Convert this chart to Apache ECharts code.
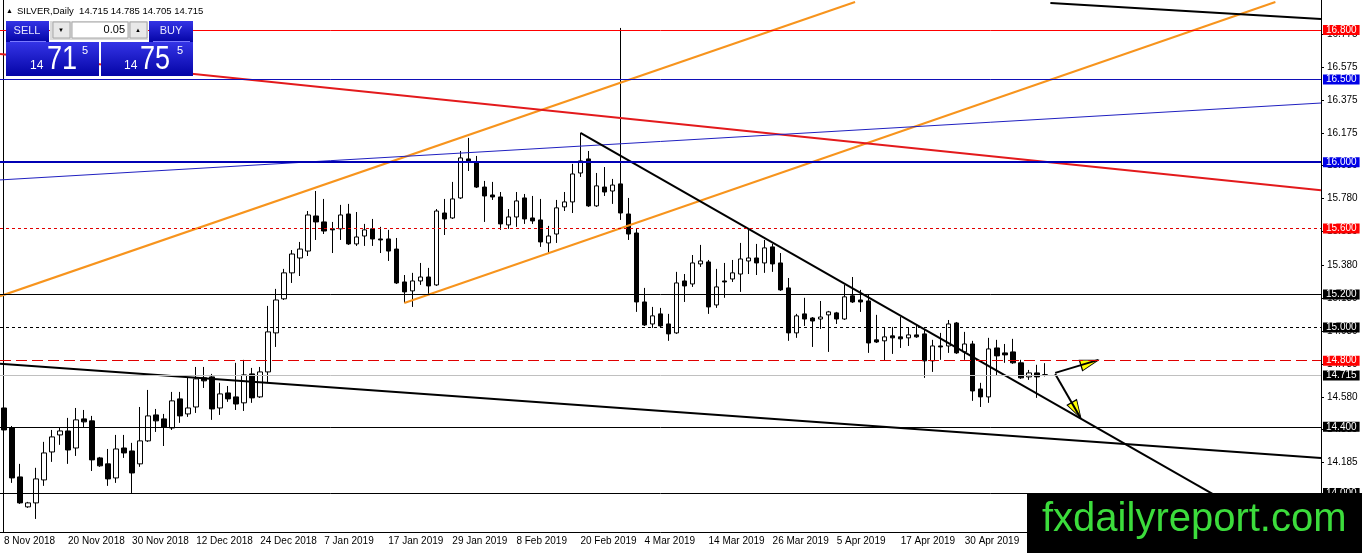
<!DOCTYPE html>
<html>
<head>
<meta charset="utf-8">
<title>SILVER, Daily</title>
<script src="https://cdn.jsdelivr.net/npm/echarts@6/dist/echarts.min.js"></script>
<style>
  html, body { margin: 0; padding: 0; background: #fff; }
  #chart { width: 1362px; height: 553px; }
</style>
</head>
<body>
<div id="chart"></div>
<script>
// daily bars, 8 Nov 2018 .. 14 May 2019
const opens = [
  14.514, 14.393, 14.097, 13.916, 13.940, 14.079, 14.248, 14.351, 14.375, 14.272,
  14.448, 14.436, 14.212, 14.176, 14.091, 14.272, 14.254, 14.176, 14.315, 14.472,
  14.448, 14.393, 14.569, 14.478, 14.520, 14.696, 14.702, 14.514, 14.605, 14.581,
  14.545, 14.720, 14.581, 14.732, 14.968, 15.174, 15.331, 15.421, 15.463, 15.675,
  15.639, 15.597, 15.597, 15.687, 15.506, 15.554, 15.597, 15.536, 15.536, 15.475,
  15.276, 15.222, 15.282, 15.306, 15.258, 15.693, 15.663, 15.784, 16.020, 16.002,
  15.850, 15.802, 15.790, 15.621, 15.669, 15.784, 15.663, 15.651, 15.512, 15.566,
  15.730, 15.760, 15.935, 16.020, 15.736, 15.850, 15.826, 15.869, 15.687, 15.572,
  15.155, 15.022, 15.083, 15.022, 14.968, 15.282, 15.264, 15.385, 15.397, 15.137,
  15.282, 15.294, 15.324, 15.403, 15.421, 15.391, 15.488, 15.391, 15.240, 14.968,
  15.083, 15.058, 15.052, 15.077, 15.089, 15.052, 15.192, 15.167, 15.161, 14.926,
  14.920, 14.950, 14.944, 14.938, 14.956, 14.962, 14.799, 14.889, 14.889, 15.028,
  14.853, 14.901, 14.629, 14.581, 14.877, 14.847, 14.853, 14.787, 14.702, 14.726,
  14.715
];
const closes = [
  14.381, 14.091, 13.940, 13.940, 14.085, 14.242, 14.339, 14.375, 14.260, 14.442,
  14.430, 14.200, 14.164, 14.085, 14.266, 14.242, 14.121, 14.315, 14.466, 14.436,
  14.399, 14.557, 14.466, 14.514, 14.690, 14.678, 14.508, 14.599, 14.569, 14.538,
  14.714, 14.575, 14.732, 14.974, 15.167, 15.331, 15.445, 15.475, 15.681, 15.639,
  15.584, 15.591, 15.681, 15.506, 15.548, 15.591, 15.536, 15.530, 15.463, 15.270,
  15.216, 15.282, 15.306, 15.252, 15.705, 15.657, 15.778, 16.026, 16.002, 15.850,
  15.796, 15.790, 15.627, 15.669, 15.766, 15.657, 15.645, 15.518, 15.554, 15.724,
  15.760, 15.929, 16.008, 15.736, 15.857, 15.820, 15.862, 15.693, 15.566, 15.155,
  15.016, 15.071, 15.010, 14.962, 15.270, 15.252, 15.391, 15.403, 15.125, 15.246,
  15.276, 15.331, 15.415, 15.421, 15.391, 15.482, 15.385, 15.228, 14.968, 15.071,
  15.052, 15.040, 15.064, 15.095, 15.052, 15.186, 15.155, 15.155, 14.907, 14.913,
  14.944, 14.938, 14.932, 14.956, 14.944, 14.799, 14.889, 14.883, 15.022, 14.847,
  14.901, 14.617, 14.581, 14.871, 14.829, 14.835, 14.787, 14.696, 14.726, 14.702,
  14.715
];
const highs = [
  14.563, 14.405, 14.176, 13.946, 14.152, 14.309, 14.381, 14.393, 14.454, 14.514,
  14.502, 14.466, 14.218, 14.266, 14.351, 14.351, 14.303, 14.520, 14.623, 14.508,
  14.478, 14.611, 14.611, 14.696, 14.762, 14.762, 14.720, 14.666, 14.647, 14.787,
  14.805, 14.756, 14.762, 15.131, 15.234, 15.355, 15.469, 15.518, 15.705, 15.826,
  15.778, 15.639, 15.742, 15.748, 15.699, 15.627, 15.657, 15.609, 15.591, 15.542,
  15.318, 15.331, 15.391, 15.361, 15.717, 15.778, 15.881, 16.068, 16.147, 16.038,
  15.887, 15.881, 15.820, 15.717, 15.820, 15.808, 15.796, 15.778, 15.615, 15.772,
  15.820, 15.990, 16.177, 16.068, 15.935, 15.971, 15.899, 16.812, 15.784, 15.597,
  15.240, 15.125, 15.119, 15.083, 15.337, 15.324, 15.439, 15.500, 15.409, 15.355,
  15.391, 15.409, 15.512, 15.591, 15.506, 15.530, 15.506, 15.451, 15.300, 15.083,
  15.180, 15.064, 15.161, 15.101, 15.095, 15.258, 15.306, 15.228, 15.198, 15.077,
  14.998, 15.004, 15.064, 14.998, 15.016, 14.986, 14.926, 14.968, 15.046, 15.034,
  14.974, 14.920, 14.666, 14.938, 14.926, 14.901, 14.932, 14.805, 14.744, 14.775,
  14.785
];
const lows = [
  14.339, 14.061, 13.934, 13.910, 13.843, 14.043, 14.188, 14.291, 14.176, 14.224,
  14.399, 14.133, 14.158, 14.043, 14.061, 14.212, 14.000, 14.158, 14.309, 14.369,
  14.284, 14.381, 14.424, 14.460, 14.484, 14.635, 14.442, 14.472, 14.551, 14.502,
  14.496, 14.545, 14.575, 14.666, 14.883, 15.167, 15.270, 15.312, 15.433, 15.530,
  15.566, 15.451, 15.530, 15.500, 15.494, 15.494, 15.494, 15.451, 15.403, 15.264,
  15.149, 15.125, 15.258, 15.198, 15.252, 15.560, 15.657, 15.778, 15.947, 15.844,
  15.639, 15.772, 15.591, 15.597, 15.609, 15.627, 15.627, 15.488, 15.451, 15.512,
  15.705, 15.693, 15.911, 15.730, 15.730, 15.796, 15.748, 15.651, 15.530, 15.095,
  15.010, 14.998, 14.998, 14.920, 14.962, 15.155, 15.246, 15.367, 15.083, 15.119,
  15.180, 15.276, 15.216, 15.324, 15.318, 15.331, 15.337, 15.222, 14.920, 14.938,
  15.010, 14.883, 14.992, 14.853, 15.022, 15.046, 15.149, 15.095, 14.847, 14.907,
  14.799, 14.841, 14.877, 14.889, 14.938, 14.696, 14.732, 14.805, 14.847, 14.841,
  14.805, 14.557, 14.520, 14.545, 14.708, 14.787, 14.781, 14.690, 14.684, 14.575,
  14.705
];

const holidays = ['2018-12-25', '2019-01-01', '2019-04-19'];
const slotCount = 165;           // bars + empty space on the right
const yTicks = [16.775, 16.575, 16.375, 16.175, 15.980, 15.780, 15.580, 15.380,
                15.180, 14.980, 14.780, 14.580, 14.385, 14.185, 13.985];
const yMin = 13.764, yMax = 16.981;

// horizontal levels drawn on the chart
const levels = [16.8, 16.5, 16.0, 15.6, 15.2, 15.0, 14.8, 14.715, 14.4, 14.0];
const levelText = ['16.800', '16.500', '16.000', '15.600', '15.200', '15.000', '14.800', '14.715', '14.400', '14.000'];
const levelLine = ['#ff0000', '#1010b8', '#0000b4', '#e00000', '#000', '#000', '#e00000', '#c0c0c0', '#000', '#000'];
const levelWidth = [1, 1, 2, 1, 1, 1, 1, 1, 1, 1];
const levelType = ['solid', 'solid', 'solid', [3, 3], 'solid', [3, 3], [11, 5], 'solid', 'solid', 'solid'];
const levelBox = ['#ff0000', '#0000e6', '#0000e6', '#ff0000', '#000', '#000', '#ff0000', '#000', '#000', '#000'];

// trend lines: [bar index, price] anchors
const trendPoints = [
  [[-0.5, 15.190], [106.3, 16.969]],   // orange channel top
  [[50, 15.149], [158.8, 16.969]],     // orange channel bottom
  [[-0.5, 16.654], [164.5, 15.831]],   // red
  [[-0.5, 15.893], [164.5, 16.358]],   // thin blue
  [[72, 16.177], [165, 13.606]],       // black, from the Feb high
  [[-0.5, 14.781], [164.5, 14.212]],   // black, long lower
  [[130.7, 16.963], [164.5, 16.866]]   // black, top right
];
const trendColor = ['#f7941d', '#f7941d', '#e31a1c', '#2020c0', '#000', '#000', '#000'];
const trendWidth = [2, 2, 2, 1, 2, 2, 2];

// the two arrows
const arrowShafts = [
  [[131.3, 14.726], [136.7, 14.805]],
  [[131.3, 14.720], [134.45, 14.455]]
];
const arrowHeads = [[135.6, 14.787], [133.95, 14.500]];
const arrowRotate = [-73, -150];

const MONTHS = ['Jan', 'Feb', 'Mar', 'Apr', 'May', 'Jun', 'Jul', 'Aug', 'Sep', 'Oct', 'Nov', 'Dec'];
const categories = [];
const day = new Date(Date.UTC(2018, 10, 8));
while (categories.length < slotCount) {
  const wd = day.getUTCDay();
  const iso = day.toISOString().slice(0, 10);
  if (wd !== 0 && wd !== 6 && holidays.indexOf(iso) < 0) {
    categories.push(day.getUTCDate() + ' ' + MONTHS[day.getUTCMonth()] + ' ' + day.getUTCFullYear());
  }
  day.setUTCDate(day.getUTCDate() + 1);
}

const candles = opens.map((o, i) => [o, closes[i], lows[i], highs[i]]);

const chart = echarts.init(document.getElementById('chart'));
const FONT = 'Liberation Sans, Arial, sans-serif';
const blueGrad = () => new echarts.graphic.LinearGradient(0, 0, 0, 1, [
  { offset: 0, color: '#3434e6' }, { offset: 1, color: '#0404a6' }
]);

const series = [{
  type: 'candlestick',
  data: candles,
  barWidth: 5,
  itemStyle: { color: '#fff', color0: '#000', borderColor: '#000', borderColor0: '#000', borderWidth: 1 },
  markLine: {
    silent: true,
    symbol: ['none', 'none'],
    animation: false,
    label: {
      show: true, position: 'end', distance: 2,
      color: '#fff', fontSize: 10, fontFamily: FONT, lineHeight: 10, padding: [0, 3]
    },
    data: levels.map((v, i) => ({
      yAxis: v,
      lineStyle: { color: levelLine[i], width: levelWidth[i], type: levelType[i] },
      label: { backgroundColor: levelBox[i], formatter: levelText[i] }
    }))
  }
}];

trendPoints.forEach((pts, i) => {
  series.push({
    type: 'line', xAxisIndex: 1, yAxisIndex: 0,
    data: pts, symbol: 'none', silent: true,
    lineStyle: { color: trendColor[i], width: trendWidth[i] }
  });
});
arrowShafts.forEach(pts => {
  series.push({
    type: 'line', xAxisIndex: 1, yAxisIndex: 0,
    data: pts, symbol: 'none', silent: true,
    lineStyle: { color: '#000', width: 2 }
  });
});
series.push({
  type: 'scatter', xAxisIndex: 1, yAxisIndex: 0, silent: true,
  symbol: 'triangle', symbolSize: [11, 18],
  itemStyle: { color: '#ffff00', borderColor: '#000', borderWidth: 1, opacity: 1 },
  data: arrowHeads.map((p, i) => ({ value: p, symbolRotate: arrowRotate[i] }))
});

const txt = (x, y, text, size, opts) => Object.assign({
  type: 'text', x: x, y: y, z: 100,
  style: Object.assign({
    text: text, fill: '#fff', font: size + 'px ' + FONT,
    align: 'left', verticalAlign: 'middle', textAlign: 'left', textVerticalAlign: 'middle'
  }, (opts && opts.style) || {})
}, (opts && opts.el) || {});

const option = {
  animation: false,
  backgroundColor: '#fff',
  textStyle: { fontFamily: FONT },
  grid: { left: -1, right: 41, top: 0, bottom: 21 },
  xAxis: [{
    type: 'category', data: categories, boundaryGap: true,
    axisLine: { onZero: false, lineStyle: { color: '#000', width: 1 } },
    axisTick: { alignWithLabel: true, interval: 7, length: 3, lineStyle: { color: '#000' } },
    axisLabel: { interval: 7, align: 'left', margin: 4, color: '#000', fontSize: 10, fontFamily: FONT },
    splitLine: { show: false }
  }, {
    type: 'value', min: -0.5, max: 164.5, show: false
  }],
  yAxis: [{
    type: 'value', position: 'right', min: yMin, max: yMax,
    axisLine: { show: true, onZero: false, lineStyle: { color: '#000' } },
    axisTick: { show: true, length: 3, customValues: yTicks, lineStyle: { color: '#000' } },
    axisLabel: { customValues: yTicks, formatter: v => v.toFixed(3), color: '#000', fontSize: 10, fontFamily: FONT, margin: 6 },
    splitLine: { show: false }
  }, {
    type: 'value', position: 'left', offset: -3, min: yMin, max: yMax,
    axisLine: { show: true, onZero: false, lineStyle: { color: '#000' } },
    axisTick: { show: false }, axisLabel: { show: false }, splitLine: { show: false }
  }],
  series: series,
  graphic: [
    // chart caption
    txt(6, 11, '\u25B2', 7, { style: { fill: '#000' } }),
    txt(17, 11, 'SILVER,Daily  14.715 14.785 14.705 14.715', 9.5, { style: { fill: '#000' } }),
    // one click trading panel
    { type: 'rect', z: 100, shape: { x: 6, y: 21, width: 43, height: 21 }, style: { fill: blueGrad() } },
    { type: 'rect', z: 100, shape: { x: 149, y: 21, width: 44, height: 21 }, style: { fill: blueGrad() } },
    { type: 'rect', z: 100, shape: { x: 50, y: 21, width: 98, height: 19 }, style: { fill: '#dcdcdc' } },
    { type: 'rect', z: 100, shape: { x: 53, y: 22, width: 17, height: 16 }, style: { fill: '#e8e8e8', stroke: '#a8a8a8' } },
    { type: 'rect', z: 100, shape: { x: 72, y: 22, width: 56, height: 16 }, style: { fill: '#fff', stroke: '#a8a8a8' } },
    { type: 'rect', z: 100, shape: { x: 130, y: 22, width: 17, height: 16 }, style: { fill: '#e8e8e8', stroke: '#a8a8a8' } },
    txt(58, 30, '\u25BC', 6, { style: { fill: '#000' } }),
    txt(135, 30, '\u25B2', 6, { style: { fill: '#000' } }),
    txt(125, 30, '0.05', 11, { style: { fill: '#000', align: 'right', textAlign: 'right' } }),
    txt(27, 31, 'SELL', 11, { style: { fill: '#e6e6ff', align: 'center', textAlign: 'center' } }),
    txt(171, 31, 'BUY', 11, { style: { fill: '#e6e6ff', align: 'center', textAlign: 'center' } }),
    { type: 'line', z: 101, shape: { x1: 10, y1: 41.5, x2: 46, y2: 41.5 }, style: { stroke: '#7a7aff', lineWidth: 1 } },
    { type: 'line', z: 101, shape: { x1: 153, y1: 41.5, x2: 190, y2: 41.5 }, style: { stroke: '#7a7aff', lineWidth: 1 } },
    { type: 'rect', z: 100, shape: { x: 6, y: 42, width: 93, height: 34 }, style: { fill: blueGrad() } },
    { type: 'rect', z: 100, shape: { x: 101, y: 42, width: 92, height: 34 }, style: { fill: blueGrad() } },
    txt(30, 66, '14', 12),
    txt(47, 60, '71', 33, { el: { scaleX: 0.82 } }),
    txt(82, 51, '5', 11),
    txt(124, 66, '14', 12),
    txt(140, 60, '75', 33, { el: { scaleX: 0.82 } }),
    txt(177, 51, '5', 11),
    // watermark
    { type: 'rect', z: 110, shape: { x: 1027, y: 493, width: 335, height: 60 }, style: { fill: '#000' } },
    txt(1042, 520, 'fxdailyreport.com', 40, { el: { z: 111 }, style: { fill: '#3cdc3c' } })
  ]
};

chart.setOption(option);
</script>
</body>
</html>
